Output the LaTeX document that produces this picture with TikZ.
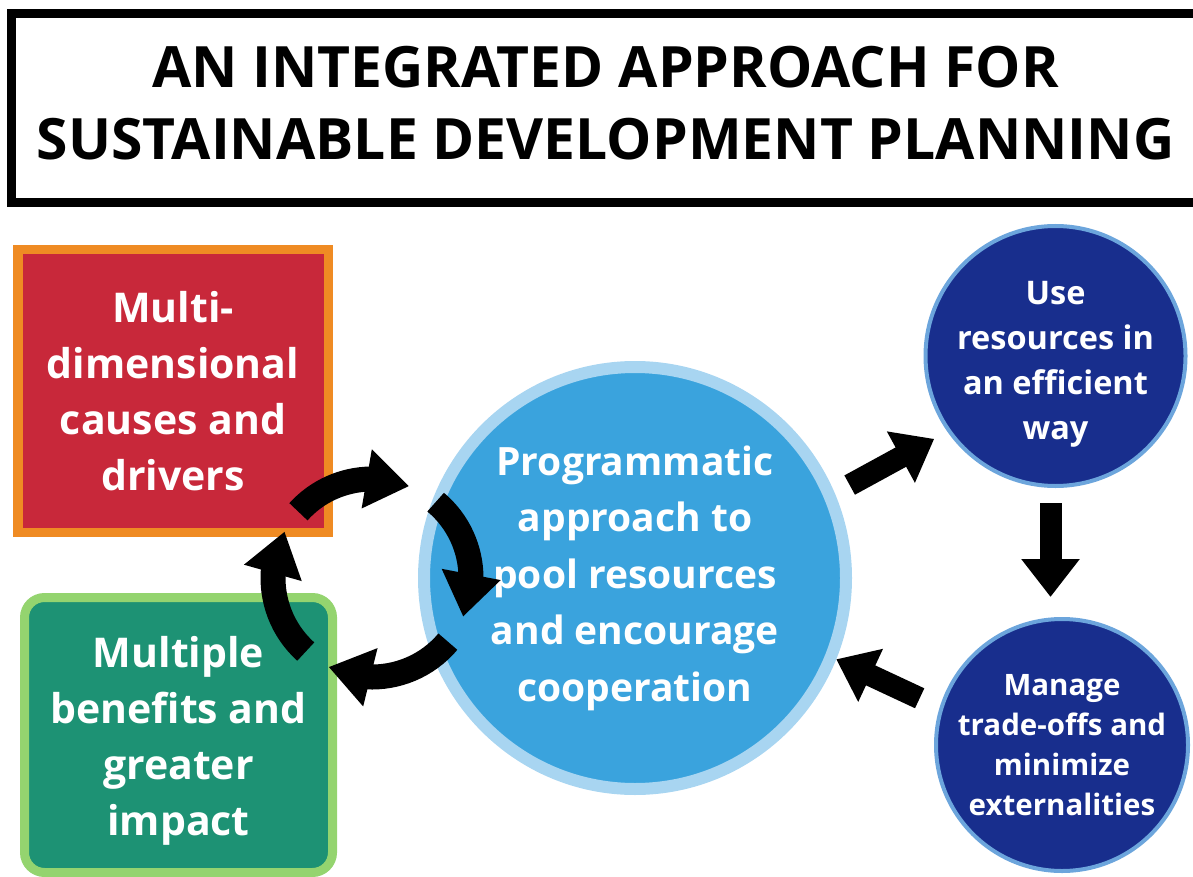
\documentclass[tikz,border=0pt]{standalone}
\usepackage{fontspec}
\setmainfont{Open Sans}
\usepackage{xcolor}
\usepackage{tikz}
\usetikzlibrary{arrows.meta,bending}
\definecolor{SRed}{HTML}{C8283A}
\definecolor{SOrange}{HTML}{EF8B23}
\definecolor{STeal}{HTML}{1D9274}
\definecolor{SLime}{HTML}{94D46F}
\definecolor{SSky}{HTML}{3AA3DD}
\definecolor{SIce}{HTML}{A8D5F1}
\definecolor{SNavy}{HTML}{182E8D}
\definecolor{SRim}{HTML}{6CA5DC}

\begin{document}
\begin{tikzpicture}[
  x=1pt,y=-1pt,
  hd/.style={draw=black,line width=9pt,minimum width=1189pt,minimum height=188.5pt,
    inner sep=0pt,align=center,font=\fontsize{57}{72}\selectfont\bfseries},
  sq/.style={line width=9.5pt,inner sep=0pt,align=center,text=white,
    font=\fontsize{41}{56}\selectfont\bfseries},
  rd/.style={circle,inner sep=0pt},
  lb/.style={align=center,text=white},
  a/.style={-{Triangle[length=38pt,width=56pt]},line width=22pt},
  ca/.style={-{Triangle[length=43pt,width=57pt]},line width=25pt}
]
  \useasboundingbox (0,0) rectangle (1193,877);
  \node[hd] (title) at (605.5,108) {AN INTEGRATED APPROACH FOR\\SUSTAINABLE DEVELOPMENT PLANNING\rule[-11pt]{0pt}{11pt}};
  \node[sq,draw=SOrange,fill=SRed,minimum width=310.5pt,minimum height=282.5pt]
    (causes) at (173,391) {Multi-\\dimensional\\causes and\\drivers};
  \node[sq,draw=SLime,fill=STeal,rounded corners=20pt,line width=9pt,
    minimum width=308pt,minimum height=275pt]
    (benefits) at (178.5,735) {\rule{0pt}{42pt}Multiple\\benefits and\\greater\\impact};
  \node[rd,draw=SIce,fill=SSky,line width=12pt,minimum size=422pt,
    label={[lb,font=\fontsize{39}{56.5}\selectfont\bfseries]center:Programmatic\\approach to\\pool resources\\and encourage\\cooperation}]
    (prog) at (635,578) {};
  \node[rd,draw=SRim,fill=SNavy,line width=4pt,minimum size=260pt,
    label={[lb,yshift=-8pt,font=\fontsize{32.5}{45}\selectfont\bfseries]center:Use\\resources in\\an efficient\\way}]
    (use) at (1055.5,356) {};
  \node[rd,draw=SRim,fill=SNavy,line width=4pt,minimum size=252pt,
    label={[lb,font=\fontsize{29.5}{40}\selectfont\bfseries]center:Manage\\trade-offs and\\minimize\\externalities}]
    (manage) at (1062,745) {};
  \coordinate (hub) at (372,578);
  % cycle between the two boxes and the pool
  \foreach \s/\e in {-138/-68,-50/23,40/116,132/208}
    {\draw[ca] ([shift={(\s:99)}]hub) arc[start angle=\s,end angle=\e,radius=99];}
  \draw[a,shorten <=17pt,shorten >=15pt] (prog.23) -- (use.215);
  \draw[a,shorten <=15pt,shorten >=20pt] ([xshift=-5pt]use.south) -- ([xshift=-5pt]use.south |- manage.north);
  \draw[a,shorten <=22pt] (manage.163) -- (prog.-22);
\end{tikzpicture}
\end{document}
